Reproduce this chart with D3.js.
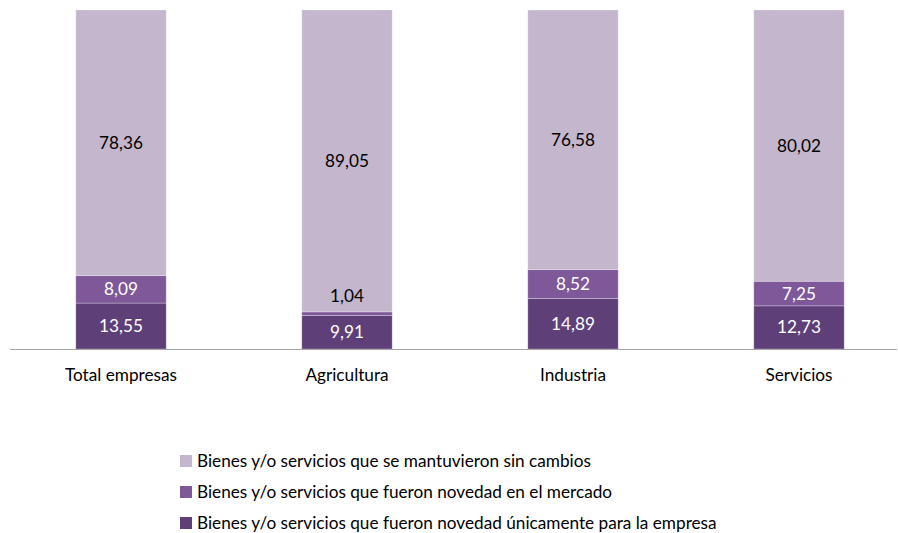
<!DOCTYPE html>
<html><head><meta charset="utf-8">
<script src="https://cdn.jsdelivr.net/npm/d3@7"></script>
<style>body{margin:0;background:#fff}svg{display:block}text{font-family:Lato,"Open Sans",sans-serif}</style>
</head><body><svg id="c" width="898" height="533"></svg>
<script>
const categories = ["Total empresas","Agricultura","Industria","Servicios"];
const seriesNames = [
  "Bienes y/o servicios que fueron novedad únicamente para la empresa",
  "Bienes y/o servicios que fueron novedad en el mercado",
  "Bienes y/o servicios que se mantuvieron sin cambios"
];
const unicaEmpresa = [13.55, 9.91, 14.89, 12.73];
const novedadMercado = [8.09, 1.04, 8.52, 7.25];
const sinCambios = [78.36, 89.05, 76.58, 80.02];
const colors = ["#5E3F78","#7E5898","#C3B6CD"];
const labelColors = ["#fff","#fff","#000"];
const FS = 17.2;

const svg = d3.select("#c");
const x = d3.scaleBand().domain(categories).range([8, 912]).paddingInner(0.6).paddingOuter(0.3);
const y = d3.scaleLinear().domain([0,100]).range([349, 10]);

const rows = categories.map((c,i)=>({cat:c, s0:unicaEmpresa[i], s1:novedadMercado[i], s2:sinCambios[i]}));
const stack = d3.stack().keys(["s0","s1","s2"])(rows);

const g = svg.append("g");
stack.forEach((layer,li)=>{
  g.selectAll(null).data(layer).enter().append("rect")
    .attr("x", d=>x(d.data.cat))
    .attr("width", x.bandwidth())
    .attr("y", d=>y(d[1]))
    .attr("height", d=>y(d[0])-y(d[1]))
    .attr("fill", colors[li])
    .attr("stroke","#fff").attr("stroke-opacity",0.35).attr("stroke-width",0.8);
});
stack.forEach((layer,li)=>{
  g.selectAll(null).data(layer).enter().append("text")
    .attr("x", d=>x(d.data.cat)+x.bandwidth()/2)
    .attr("y", d=>{
      const v=d[1]-d[0];
      if (v<3) return y(d[1])-16;
      return (y(d[0])+y(d[1]))/2;
    })
    .attr("dy","0.35em")
    .attr("text-anchor","middle")
    .attr("font-size",FS)
    .attr("fill", d=> (d[1]-d[0]<3) ? "#000" : labelColors[li])
    .text(d=>d3.format(".2f")(d[1]-d[0]).replace(".",","));
});

// axis
svg.append("line").attr("x1",10).attr("x2",897).attr("y1",349.5).attr("y2",349.5)
  .attr("stroke","#A6A6A6").attr("stroke-width",1.2);
const ax = svg.append("g").attr("transform","translate(0,349)")
  .call(d3.axisBottom(x).tickSize(0).tickPadding(20));
ax.select(".domain").remove();
ax.selectAll("text").attr("font-size",FS).attr("fill","#000").attr("font-family","Lato,'Open Sans',sans-serif");

// legend
const legendOrder = [2,1,0];
const lg = svg.append("g");
legendOrder.forEach((si,k)=>{
  const yy = 461 + k*31;
  lg.append("rect").attr("x",180).attr("y",yy-6).attr("width",12).attr("height",12).attr("fill",colors[si]);
  lg.append("text").attr("x",197).attr("y",yy).attr("dy","0.35em").attr("font-size",FS).attr("fill","#000").text(seriesNames[si]);
});
</script></body></html>
